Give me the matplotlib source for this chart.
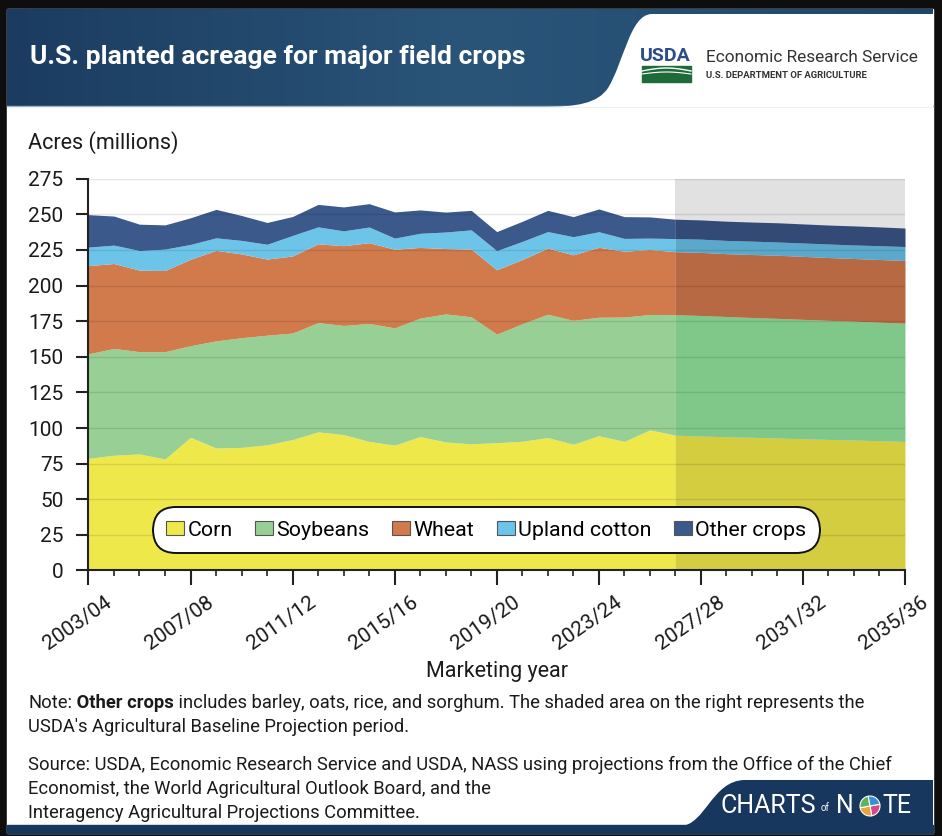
import numpy as np
import matplotlib
matplotlib.use('Agg')
import matplotlib.pyplot as plt
import matplotlib.transforms as mtrans
from matplotlib.patches import Rectangle, PathPatch, Patch, Wedge
from matplotlib.path import Path
from matplotlib.colors import LinearSegmentedColormap

plt.rcParams['font.family'] = ['Roboto', 'DejaVu Sans']

# marketing years 2003/04 .. 2035/36 (2026/27 onward = baseline projection)
years = list(range(2003, 2036))
proj_start = 2026

corn = [78.7, 80.9, 81.8, 78.3, 93.5, 86.0, 86.4, 88.2, 91.9, 97.3, 95.4, 90.6,
        88.0, 94.0, 90.2, 88.9, 89.7, 90.7, 93.3, 88.6, 94.6, 90.6, 98.7,
        95.0, 94.4, 93.9, 93.5, 93.0, 92.5, 92.0, 91.6, 91.1, 90.6]
soybeans = [73.4, 75.0, 71.8, 75.3, 64.3, 75.2, 77.0, 77.0, 74.8, 76.7, 76.6, 82.8,
            82.3, 83.2, 89.9, 89.2, 76.2, 82.5, 86.6, 87.0, 83.2, 87.3, 81.0,
            84.6, 84.6, 84.4, 84.1, 84.0, 83.8, 83.6, 83.4, 83.2, 83.0]
wheat = [61.9, 59.6, 57.2, 57.0, 60.7, 63.5, 58.8, 53.4, 54.1, 55.3, 56.0, 56.7,
         55.2, 49.6, 45.9, 47.5, 45.2, 45.1, 46.4, 46.0, 49.1, 46.2, 45.6,
         44.2, 44.3, 44.1, 44.2, 44.3, 44.2, 44.1, 44.0, 44.0, 44.0]
cotton = [13.0, 12.9, 13.8, 15.0, 10.4, 8.8, 9.5, 10.4, 14.4, 11.9, 10.4, 11.0,
          7.8, 9.9, 11.6, 13.5, 13.4, 12.7, 11.6, 12.7, 10.9, 9.0, 8.0,
          9.2, 9.3, 9.3, 9.4, 9.3, 9.4, 9.5, 9.5, 9.7, 9.8]
other = [22.8, 20.4, 18.5, 17.0, 18.7, 20.0, 17.5, 15.3, 13.3, 15.8, 16.8, 16.4,
         18.4, 16.4, 14.0, 13.7, 13.4, 14.1, 14.9, 14.1, 16.0, 15.3, 14.9,
         13.6, 13.5, 13.5, 13.4, 13.5, 13.4, 13.3, 13.4, 13.2, 13.0]

names = ['Corn', 'Soybeans', 'Wheat', 'Upland cotton', 'Other crops']
colors = ['#EEE84B', '#98CF95', '#D17A4B', '#6CC4E9', '#3B598B']
colors_proj = ['#D4CD40', '#80C78A', '#B76943', '#5AA8CB', '#334A77']

yticks = [0, 25, 50, 75, 100, 125, 150, 175, 200, 225, 250, 275]
xticks = [2003, 2007, 2011, 2015, 2019, 2023, 2027, 2031, 2035]
xticklabels = ['%d/%02d' % (y, (y + 1) % 100) for y in xticks]

W, H = 942, 836
fig = plt.figure(figsize=(W / 100, H / 100), dpi=100, facecolor='#0e0e0e')

# background / decoration layer in pixel coords
bg = fig.add_axes([0, 0, 1, 1], zorder=0)
bg.set_xlim(0, W)
bg.set_ylim(H, 0)
bg.axis('off')
bg.add_patch(Rectangle((7, 9), 926, 824, color='white', zorder=0))

# header band
grad = np.linspace(0, 1, 256).reshape(1, -1)
hdr_cmap = LinearSegmentedColormap.from_list('hdr', ['#1B3C60', '#2A5579', '#1F476C'])
bg.imshow(grad, cmap=hdr_cmap, extent=[7, 933, 106, 9], aspect='auto', zorder=1)
bg.plot([7, 933], [106, 106], color='#9fb3c6', lw=1, zorder=1)
logo = Path([(933, 14), (652, 14), (630, 14), (624, 62), (608, 88),
             (598, 103), (578, 107), (542, 107), (933, 107), (933, 14)],
            [Path.MOVETO, Path.LINETO, Path.CURVE4, Path.CURVE4, Path.CURVE4,
             Path.CURVE4, Path.CURVE4, Path.CURVE4, Path.LINETO, Path.CLOSEPOLY])
bg.add_patch(PathPatch(logo, facecolor='white', edgecolor='none', zorder=2))
bg.text(30, 57, 'U.S. planted acreage for major field crops', color='white',
        fontsize=19, fontweight='bold', va='center', ha='left', zorder=3)

# USDA logo
bg.text(640, 56, 'USDA', color='#2B4D8E', fontsize=14, fontweight='bold',
        va='center', ha='left', zorder=3)
bg.add_patch(Rectangle((642, 66), 49, 16, color='#1E6B3A', zorder=3))
sx = np.linspace(642, 691, 30)
bg.plot(sx, 71 - 3 * np.sin((sx - 642) / 49 * np.pi), color='white', lw=1, zorder=4)
bg.plot(sx, 74 - 2 * np.sin((sx - 642) / 49 * np.pi), color='white', lw=0.8, zorder=4)
bg.text(706, 57, 'Economic Research Service', color='#333333', fontsize=12.4,
        va='center', ha='left', zorder=3)
bg.text(706, 76, 'U.S. DEPARTMENT OF AGRICULTURE', color='#333333', fontsize=6.8,
        fontweight='bold', va='center', ha='left', zorder=3)

bg.text(28, 143, 'Acres (millions)', color='#1a1a1a', fontsize=15.5,
        va='center', ha='left', zorder=3)

# footer notes (mixed weight)
renderer = fig.canvas.get_renderer()
def runs(x, y, parts):
    for txt, wt in parts:
        t = bg.text(x, y, txt, fontsize=13.2, fontweight=wt, color='#1a1a1a',
                    va='center', ha='left', zorder=3)
        x += t.get_window_extent(renderer).width

runs(28, 703, [('Note:', 'normal'), (' Other crops', 'bold'),
               (' includes barley, oats, rice, and sorghum. The shaded area on the right represents the', 'normal')])
runs(28, 727, [("USDA's Agricultural Baseline Projection period.", 'normal')])
runs(28, 765, [('Source: USDA, Economic Research Service and USDA, NASS using projections from the Office of the Chief', 'normal')])
runs(28, 789, [('Economist, the World Agricultural Outlook Board, and the', 'normal')])
runs(28, 813, [('Interagency Agricultural Projections Committee.', 'normal')])

# footer band + Charts of Note
bg.add_patch(Rectangle((7, 825), 926, 8, color='#17375E', zorder=1))
foot = Path([(680, 826), (705, 826), (712, 780), (745, 780), (933, 780), (933, 833), (680, 833), (680, 826)],
            [Path.MOVETO, Path.CURVE4, Path.CURVE4, Path.CURVE4, Path.LINETO, Path.LINETO, Path.LINETO, Path.CLOSEPOLY])
bg.add_patch(PathPatch(foot, facecolor='#17375E', edgecolor='none', zorder=1))
bg.text(721, 806, 'CHARTS', color='white', fontsize=18, va='center', ha='left', zorder=3)
bg.text(821, 808, 'of', color='white', fontsize=7, va='center', ha='left', zorder=3)
bg.text(836, 806, 'N', color='white', fontsize=18, va='center', ha='left', zorder=3)
pie_cols = ['#D9478B', '#E8A33C', '#5DB55A', '#3A8FD6']
for k, c in enumerate(pie_cols):
    bg.add_patch(Wedge((870, 806), 10, 90 * k - 10, 90 * k + 80, facecolor=c,
                       edgecolor='white', lw=0.8, zorder=3))
bg.text(882, 806, 'TE', color='white', fontsize=18, va='center', ha='left', zorder=3)

# main chart
ax = fig.add_axes([0.0939, 0.3176, 0.8668, 0.4686], zorder=1)
ax.set_facecolor('none')
ax.set_xlim(2003, 2035)
ax.set_ylim(0, 275)

ax.axvspan(proj_start, 2035, color='#E1E1E1', zorder=0, lw=0)

series = np.array([corn, soybeans, wheat, cotton, other])
tops = np.cumsum(series, axis=0)
bottoms = np.vstack([np.zeros(len(years)), tops[:-1]])
x = np.array(years)
ip = years.index(proj_start)
for k in range(len(names)):
    ax.fill_between(x[:ip + 1], bottoms[k, :ip + 1], tops[k, :ip + 1],
                    color=colors[k], lw=0, zorder=1)
    ax.fill_between(x[ip:], bottoms[k, ip:], tops[k, ip:],
                    color=colors_proj[k], lw=0, zorder=1)

for v in yticks[1:]:
    ax.axhline(v, color='black', alpha=0.1, lw=1, zorder=2)

for s in ['top', 'right']:
    ax.spines[s].set_visible(False)
for s in ['left', 'bottom']:
    ax.spines[s].set_linewidth(1.5)
    ax.spines[s].set_color('#222222')
    ax.spines[s].set_zorder(3)

ax.set_yticks(yticks)
ax.tick_params(axis='y', length=9, width=1.5, color='#222222', pad=9,
               labelsize=15, labelcolor='#1a1a1a')
ax.set_xticks(xticks)
ax.set_xticks(years, minor=True)
ax.set_xticklabels(xticklabels, rotation=35, ha='right', va='top',
                   rotation_mode='anchor')
ax.tick_params(axis='x', which='major', length=11, width=1.5, color='#222222',
               pad=5, labelsize=15, labelcolor='#1a1a1a')
ax.tick_params(axis='x', which='minor', length=4.5, width=1.2, color='#222222')
for lbl in ax.get_xticklabels():
    lbl.set_transform(lbl.get_transform() + mtrans.ScaledTranslation(16 / 100, 0, fig.dpi_scale_trans))

ax.set_xlabel('Marketing year', fontsize=15.5, color='#1a1a1a')
ax.xaxis.set_label_coords(0.50, -0.23)

handles = [Patch(facecolor=colors[k], edgecolor='#555555', lw=0.8, label=names[k])
           for k in range(len(names))]
leg = ax.legend(handles=handles, loc='center', bbox_to_anchor=(0.487, 0.103),
                ncol=5, fontsize=15.4, frameon=True, fancybox=True, framealpha=1,
                edgecolor='#111111', borderpad=0.62, handlelength=0.85,
                handleheight=0.6, handletextpad=0.15, columnspacing=1.05)
leg.get_frame().set_linewidth(1.4)
leg.get_frame().set_boxstyle('round', pad=0, rounding_size=1.1)
leg.set_zorder(5)

fig.savefig('out.png', dpi=100, facecolor=fig.get_facecolor())
